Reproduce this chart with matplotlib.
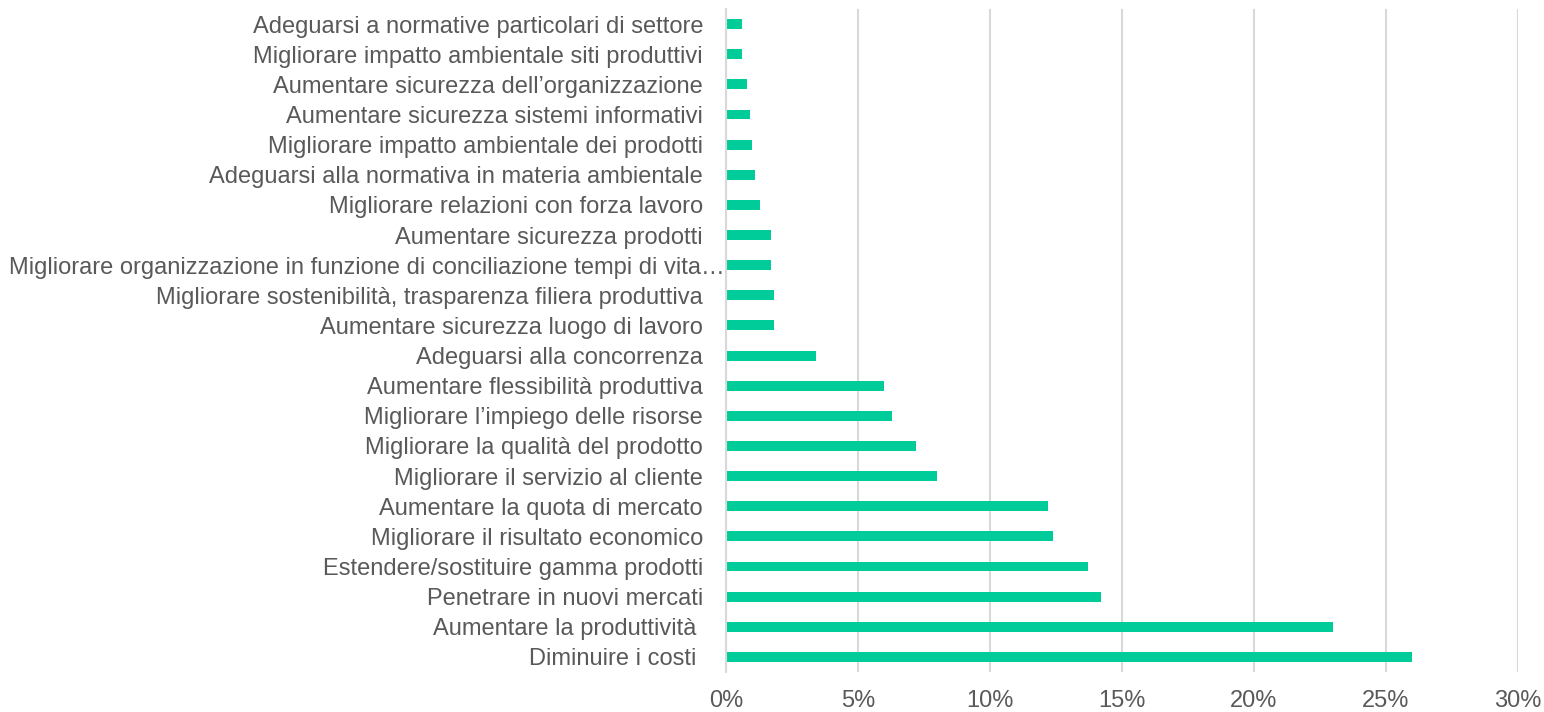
import matplotlib.pyplot as plt
import matplotlib.transforms as mtransforms
from matplotlib.ticker import FuncFormatter

plt.rcParams['font.family'] = ['Liberation Sans', 'DejaVu Sans']

# categories from bottom to top
categories = [
    "Diminuire i costi ",
    "Aumentare la produttività ",
    "Penetrare in nuovi mercati",
    "Estendere/sostituire gamma prodotti",
    "Migliorare il risultato economico",
    "Aumentare la quota di mercato",
    "Migliorare il servizio al cliente",
    "Migliorare la qualità del prodotto",
    "Migliorare l\u2019impiego delle risorse",
    "Aumentare flessibilità produttiva",
    "Adeguarsi alla concorrenza",
    "Aumentare sicurezza luogo di lavoro",
    "Migliorare sostenibilità, trasparenza filiera produttiva",
    "Migliorare organizzazione in funzione di conciliazione tempi di vita\u2026",
    "Aumentare sicurezza prodotti",
    "Migliorare relazioni con forza lavoro",
    "Adeguarsi alla normativa in materia ambientale",
    "Migliorare impatto ambientale dei prodotti",
    "Aumentare sicurezza sistemi informativi",
    "Aumentare sicurezza dell\u2019organizzazione",
    "Migliorare impatto ambientale siti produttivi",
    "Adeguarsi a normative particolari di settore",
]
values = [26.0, 23.0, 14.2, 13.7, 12.4, 12.2, 8.0, 7.2, 6.3, 6.0, 3.4,
          1.8, 1.8, 1.7, 1.7, 1.3, 1.1, 1.0, 0.9, 0.8, 0.6, 0.6]
xticks = [0, 5, 10, 15, 20, 25, 30]

text_color = '#595959'
bar_color = '#00CC99'
grid_color = '#D9D9D9'

fig = plt.figure(figsize=(15.44, 7.12), dpi=100)
ax = fig.add_axes([726 / 1544, 1 - 672 / 712, (1518 - 726) / 1544, (672 - 9) / 712])

y = range(len(categories))
ax.barh(y, values, height=0.33, color=bar_color, zorder=3)

ax.set_xlim(0, 30)
ax.set_ylim(-0.5, len(categories) - 0.5)
ax.set_xticks(xticks)
ax.xaxis.set_major_formatter(FuncFormatter(lambda v, p: '%d%%' % v))
ax.set_yticks(list(y))
ax.set_yticklabels(categories)

ax.grid(axis='x', color=grid_color, linewidth=1.5, zorder=0)
for s in ['top', 'right', 'bottom']:
    ax.spines[s].set_visible(False)
ax.spines['left'].set_color(grid_color)
ax.spines['left'].set_linewidth(1.5)
ax.spines['left'].set_zorder(4)

ax.tick_params(axis='both', length=0, labelsize=17, colors=text_color)
ax.tick_params(axis='y', pad=16.5)
ax.tick_params(axis='x', pad=13)

# truncated label sits closer to the axis
lab = ax.get_yticklabels()[13]
lab.set_transform(lab.get_transform() + mtransforms.ScaledTranslation(22 / 100, 0, fig.dpi_scale_trans))

fig.savefig('out.png', dpi=100)
